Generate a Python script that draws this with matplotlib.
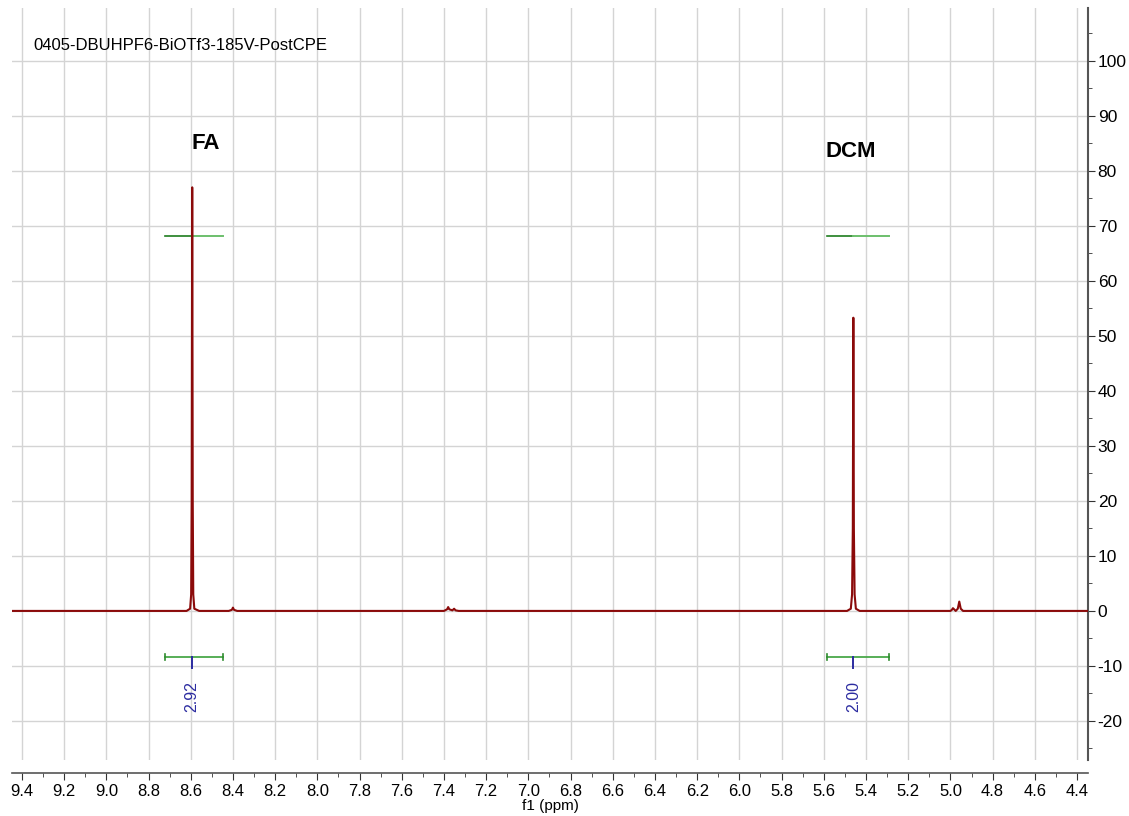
import matplotlib
matplotlib.use("Agg")
import matplotlib.pyplot as plt
from matplotlib.ticker import MultipleLocator, FormatStrFormatter

plt.rcParams['font.family'] = ['Liberation Sans', 'DejaVu Sans']
plt.rcParams['axes.unicode_minus'] = False

# spectrum trace (ppm, intensity)
ppm = [9.447, 9.00, 8.70, 8.62, 8.603, 8.598, 8.5955, 8.593, 8.5905, 8.588, 8.583, 8.56,
       8.42, 8.405, 8.40, 8.395, 8.38, 7.40, 7.385, 7.38, 7.375, 7.36, 7.352, 7.345, 7.33,
       6.50, 5.49, 5.472, 5.466, 5.4625, 5.460, 5.4575, 5.454, 5.448, 5.43,
       5.00, 4.993, 4.988, 4.975, 4.965, 4.958, 4.951, 4.94, 4.60, 4.348]
intensity = [0.0, 0.0, 0.0, 0.0, 0.4, 3.0, 20.0, 77.0, 20.0, 3.0, 0.4, 0.0,
             0.0, 0.2, 0.6, 0.2, 0.0, 0.0, 0.3, 0.7, 0.3, 0.1, 0.4, 0.1, 0.0,
             0.0, 0.0, 0.4, 3.0, 15.0, 53.3, 15.0, 3.0, 0.4, 0.0,
             0.0, 0.2, 0.5, 0.0, 0.4, 1.7, 0.4, 0.0, 0.0, 0.0]

# peak labels
peak_names = ["FA", "DCM"]
peak_label_x = [8.53, 5.47]
peak_label_y = [85.0, 83.6]

# integration regions
int_centers = [8.593, 5.460]
int_left = [8.722, 5.587]
int_right = [8.446, 5.291]
int_values = ["2.92", "2.00"]
int_curve_y = 68.1
int_bar_y = -8.4

title = "0405-DBUHPF6-BiOTf3-185V-PostCPE"

fig = plt.figure(figsize=(11.29, 8.16), dpi=100)
ax = fig.add_axes([12 / 1129, 1 - 760 / 816, (1088 - 12) / 1129, (760 - 8) / 816])

ax.plot(ppm, intensity, color='#8b0a0a', lw=1.5, zorder=3)

# integral curves and brackets
for c, l, r, v in zip(int_centers, int_left, int_right, int_values):
    ax.plot([l, c], [int_curve_y, int_curve_y], color='#1e7d1e', lw=1.2, zorder=2)
    ax.plot([c, r], [int_curve_y, int_curve_y], color='#6cbf6c', lw=1.4, zorder=2)
    ax.plot([l, r], [int_bar_y, int_bar_y], color='#4aa84a', lw=1.3, zorder=2)
    ax.plot([l, l], [int_bar_y - 0.6, int_bar_y + 0.6], color='#2e8b2e', lw=1.2)
    ax.plot([r, r], [int_bar_y - 0.6, int_bar_y + 0.6], color='#2e8b2e', lw=1.2)
    ax.plot([c, c], [int_bar_y, int_bar_y - 1.9], color='#2b2ba0', lw=1.4)
    ax.text(c, -15.5, v, rotation=90, ha='center', va='center', fontsize=11.5, color='#2b2ba0')

for n, x, y in zip(peak_names, peak_label_x, peak_label_y):
    ax.text(x, y, n, ha='center', va='center', fontsize=16, fontweight='bold')

ax.text(21 / 1076, 0.95, title, transform=ax.transAxes, ha='left', va='center', fontsize=12)

ax.set_xlim(9.447, 4.348)

ax.xaxis.set_major_locator(MultipleLocator(0.2))
ax.xaxis.set_minor_locator(MultipleLocator(0.1))
ax.xaxis.set_major_formatter(FormatStrFormatter('%.1f'))
ax.yaxis.set_minor_locator(MultipleLocator(5))
ax.yaxis.tick_right()

ax.set_yticks(range(-20, 101, 10))
ax.set_ylim(-27.1, 109.6)

ax.grid(True, which='major', color='#d4d4d4', lw=1.0, zorder=0)
ax.set_axisbelow(True)

for s in ['left', 'top']:
    ax.spines[s].set_visible(False)
ax.spines['right'].set_color('#555555')
ax.spines['right'].set_linewidth(1.5)
ax.spines['bottom'].set_color('#555555')
ax.spines['bottom'].set_linewidth(1.2)
ax.spines['bottom'].set_position(('outward', 9))

ax.tick_params(axis='x', which='major', direction='out', length=5, labelsize=12, colors='#333333', pad=3)
ax.tick_params(axis='x', which='minor', direction='out', length=3, colors='#333333')
ax.tick_params(axis='y', which='major', direction='out', length=5, labelsize=12.5, colors='#333333', pad=2)
ax.tick_params(axis='y', which='minor', direction='out', length=3, colors='#333333')
for lab in ax.get_xticklabels() + ax.get_yticklabels():
    lab.set_color('black')

ax.set_xlabel("f1 (ppm)", fontsize=11, labelpad=0)

fig.savefig("out.png", dpi=100)
